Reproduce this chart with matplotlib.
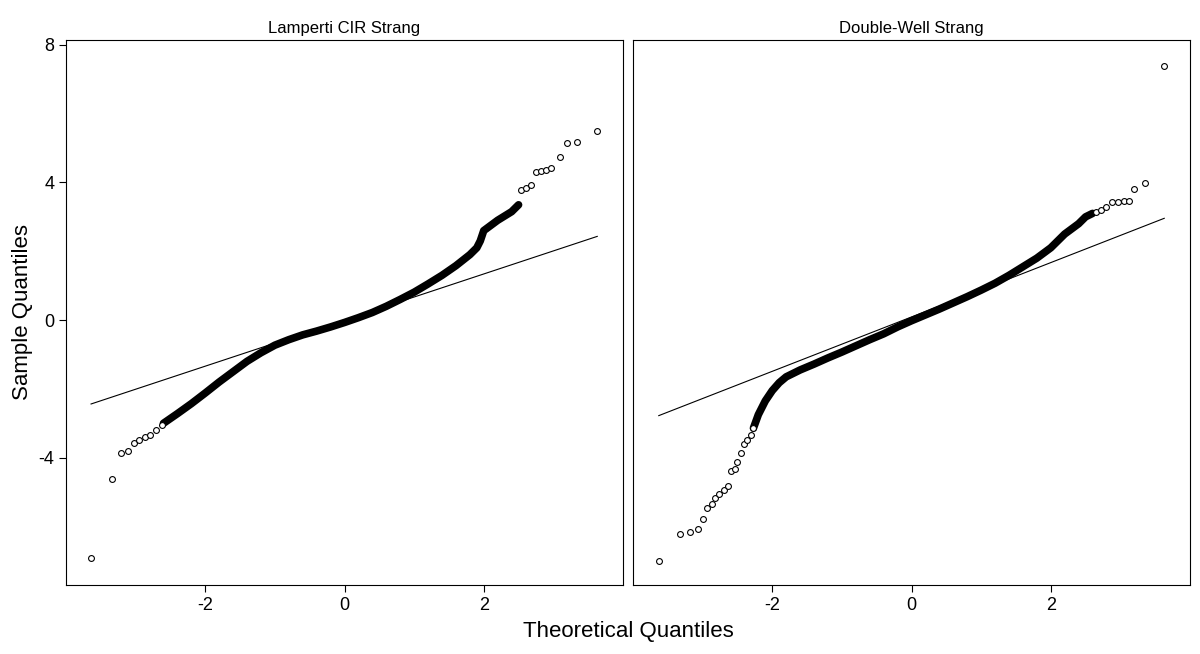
import matplotlib
matplotlib.use("Agg")
import matplotlib.pyplot as plt
import numpy as np

plt.rcParams['font.family'] = ['Liberation Sans', 'DejaVu Sans']
plt.rcParams['axes.unicode_minus'] = False

titles = ["Lamperti CIR Strang", "Double-Well Strang"]

# Left panel: sparse tails
cir_tail_x = [-3.64, -3.34, -3.21, -3.11, -3.02, -2.95, -2.87, -2.80, -2.71, -2.62,
              2.54, 2.61, 2.68, 2.75, 2.82, 2.90, 2.97, 3.10, 3.20, 3.34, 3.63]
cir_tail_y = [-6.92, -4.62, -3.87, -3.81, -3.58, -3.49, -3.40, -3.34, -3.20, -3.05,
              3.78, 3.84, 3.92, 4.30, 4.33, 4.36, 4.42, 4.74, 5.14, 5.17, 5.49]
# Left panel: dense body
cir_body_x = [-2.6, -2.4, -2.2, -2.0, -1.8, -1.6, -1.4, -1.2, -1.0, -0.8, -0.6, -0.4, -0.2,
              0.0, 0.2, 0.4, 0.6, 0.8, 1.0, 1.2, 1.4, 1.6, 1.8, 1.9, 1.95, 2.0, 2.2, 2.4, 2.5]
cir_body_y = [-3.0, -2.72, -2.43, -2.12, -1.8, -1.5, -1.2, -0.95, -0.73, -0.57, -0.43, -0.32, -0.2,
              -0.07, 0.07, 0.22, 0.4, 0.6, 0.81, 1.05, 1.3, 1.58, 1.9, 2.1, 2.3, 2.6, 2.9, 3.15, 3.35]
cir_line = (0.67, 0.0)

dw_tail_x = [-3.63, -3.32, -3.18, -3.06, -2.99, -2.93, -2.87, -2.82, -2.76, -2.70, -2.64, -2.59,
             -2.53, -2.50, -2.45, -2.40, -2.36, -2.30, -2.27,
             2.65, 2.72, 2.79, 2.88, 2.96, 3.05, 3.13, 3.19, 3.35, 3.63]
dw_tail_y = [-7.0, -6.22, -6.16, -6.08, -5.78, -5.47, -5.35, -5.17, -5.06, -4.94, -4.83, -4.39,
             -4.33, -4.13, -3.87, -3.60, -3.49, -3.34, -3.14,
             3.14, 3.20, 3.28, 3.43, 3.43, 3.46, 3.46, 3.81, 3.98, 7.38]
dw_body_x = [-2.27, -2.2, -2.1, -2.0, -1.9, -1.8, -1.6, -1.4, -1.2, -1.0, -0.8, -0.6, -0.4, -0.2,
             0.0, 0.2, 0.4, 0.6, 0.8, 1.0, 1.2, 1.4, 1.6, 1.8, 2.0, 2.2, 2.4, 2.5, 2.6]
dw_body_y = [-3.14, -2.75, -2.35, -2.05, -1.82, -1.65, -1.45, -1.28, -1.1, -0.93, -0.75, -0.57, -0.4, -0.2,
             -0.02, 0.15, 0.32, 0.5, 0.68, 0.87, 1.07, 1.3, 1.55, 1.8, 2.1, 2.5, 2.8, 3.0, 3.1]
dw_line = (0.79, 0.09)

panels = [(cir_tail_x, cir_tail_y, cir_body_x, cir_body_y, cir_line),
          (dw_tail_x, dw_tail_y, dw_body_x, dw_body_y, dw_line)]

fig = plt.figure(figsize=(12, 6.54), dpi=100)
W, H = 1200, 654
rects = [(66, 40, 557, 545), (633, 40, 557, 545)]
for i, (tx, ty, bx, by, (s, b)) in enumerate(panels):
    x0, y0, w, h = rects[i]
    ax = fig.add_axes([x0 / W, 1 - (y0 + h) / H, w / W, h / H])
    ax.plot(bx, by, '-', color='black', lw=5.5, solid_capstyle='round', solid_joinstyle='round')
    ax.plot(tx, ty, 'o', mfc='white', mec='black', ms=4.2, mew=0.8)
    xl = np.array([min(tx), max(tx)])
    ax.plot(xl, s * xl + b, color='black', lw=0.8)
    ax.set_xlim(-4.0, 4.0)
    ax.set_ylim(-7.7, 8.14)
    ax.set_xticks([-2, 0, 2])
    ax.set_yticks([-4, 0, 4, 8])
    ax.tick_params(direction='out', length=5, labelsize=13)
    if i == 1:
        ax.tick_params(axis='y', left=False, labelleft=False)
    ax.set_title(titles[i], fontsize=12, pad=5)
    if i == 0:
        ax.set_ylabel("Sample Quantiles", fontsize=16)

fig.text(628 / W, 1 - 632 / H, "Theoretical Quantiles", ha='center', va='center', fontsize=16)
fig.savefig("out.png", dpi=100)
